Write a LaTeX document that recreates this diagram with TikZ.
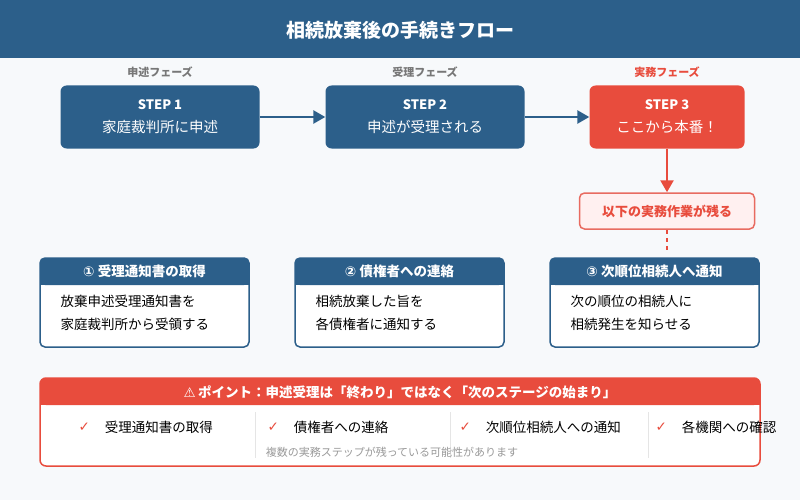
\documentclass[tikz,border=0pt]{standalone}
\usepackage{fontspec}
\setmainfont{Noto Sans CJK JP}
\newfontfamily\symfont{DejaVu Sans}
\usetikzlibrary{arrows.meta, positioning}
\definecolor{navy}{HTML}{2C5F8A}
\definecolor{alert}{HTML}{E84C3D}
\definecolor{alertlight}{HTML}{FFF0F0}
\definecolor{alertline}{HTML}{E86B60}
\definecolor{bgpage}{HTML}{F7F9FB}
\definecolor{softgray}{HTML}{777777}

\begin{document}
\begin{tikzpicture}[x=1pt, y=-1pt,
    stepbox/.style={rounded corners=6pt, minimum width=199pt, minimum height=63pt, align=center, text=white, font=\fontsize{14.5}{23}\selectfont},
    phase/.style={font=\bfseries\fontsize{11}{13}\selectfont, text=softgray},
    flow/.style={-{Triangle[length=12pt,width=13pt]}, line width=2.5pt},
    cardhead/.style={anchor=center, text=white, font=\bfseries\fontsize{13.5}{16}\selectfont},
    cardtext/.style={anchor=west, align=left, font=\fontsize{13.5}{23}\selectfont},
    check/.style={anchor=west, font=\fontsize{13.5}{16}\selectfont}]
    % Background and title
    \fill[bgpage] (0,0) rectangle (800,500);
    \fill[navy] (0,0) rectangle (800,58);
    \node[text=white, font=\bfseries\fontsize{19}{22}\selectfont] (title) at (400,30) {相続放棄後の手続きフロー};

    % Phase labels
    \node[phase] (ph1) at (160,72) {申述フェーズ};
    \node[phase] (ph2) at (425,72) {受理フェーズ};
    \node[phase, text=alert] (ph3) at (667,72) {実務フェーズ};

    % Steps
    \node[stepbox, fill=navy] (s1) at (160,117) {{\bfseries\fontsize{13}{23}\selectfont STEP 1}\\家庭裁判所に申述};
    \node[stepbox, fill=navy] (s2) at (425,117) {{\bfseries\fontsize{13}{23}\selectfont STEP 2}\\申述が受理される};
    \node[stepbox, fill=alert, minimum width=155pt] (s3) at (667,117) {{\bfseries\fontsize{13}{23}\selectfont STEP 3}\\ここから本番！};
    \draw[flow, navy] (s1) -- (s2);
    \draw[flow, navy] (s2) -- (s3);

    % Remaining tasks
    \node[draw=alertline, fill=alertlight, line width=1.5pt, rounded corners=5pt, minimum width=175pt, minimum height=36pt,
          text=alert, font=\bfseries\fontsize{13}{15}\selectfont] (rest) at (667,211) {以下の実務作業が残る};
    \draw[flow, alert] (s3) -- (rest);
    \coordinate (restend) at (667,252);
    \draw[alert, line width=2.5pt, dash pattern=on 4pt off 4pt] (rest) -- (restend);

    % Cards
    \foreach \x/\head/\body [count=\i] in {40/{\symfont ①} 受理通知書の取得/{放棄申述受理通知書を\\家庭裁判所から受領する},
        295/{\symfont ②} 債権者への連絡/{相続放棄した旨を\\各債権者に通知する},
        550/{\symfont ③} 次順位相続人へ通知/{次の順位の相続人に\\相続発生を知らせる}} {
        \fill[white, rounded corners=5pt] (\x,258) rectangle ++(209,89);
        \fill[navy, rounded corners=5pt] (\x,258) rectangle ++(209,27);
        \fill[navy] (\x,275) rectangle ++(209,10);
        \draw[navy, line width=1.5pt, rounded corners=5pt] (\x,258) rectangle ++(209,89);
        \node[cardhead] (head\i) at (\x+104.5,271.5) {\head};
        \node[cardtext] (body\i) at (\x+17,313) {\body};
    }

    % Point box
    \fill[white, rounded corners=6pt] (40,378) rectangle (760,466);
    \fill[alert, rounded corners=6pt] (40,378) rectangle (760,405);
    \fill[alert] (40,395) rectangle (760,405);
    \draw[alert, line width=1.5pt, rounded corners=6pt] (40,378) rectangle (760,466);
    \node[text=white, font=\bfseries\fontsize{13.5}{16}\selectfont] (point) at (400,392)
        {{\symfont ⚠}\,ポイント：申述受理は「終わり」ではなく「次のステージの始まり」};
    \foreach \sx in {255,450,648} \draw[black!10, line width=1pt] (\sx,412) -- (\sx,458);
    \foreach \cx/\task [count=\i] in {75/受理通知書の取得, 264/債権者への連絡, 456/次順位相続人への通知, 652/各機関への確認} {
        \node[check, text=alert] (ck\i) at (\cx,427) {\symfont ✓};
        \node[check, right=8pt of ck\i.east, anchor=west] (task\i) {\task};
    }
    \node[text=black!40, font=\fontsize{11}{13}\selectfont] (note) at (392,452) {複数の実務ステップが残っている可能性があります};
\end{tikzpicture}
\end{document}
